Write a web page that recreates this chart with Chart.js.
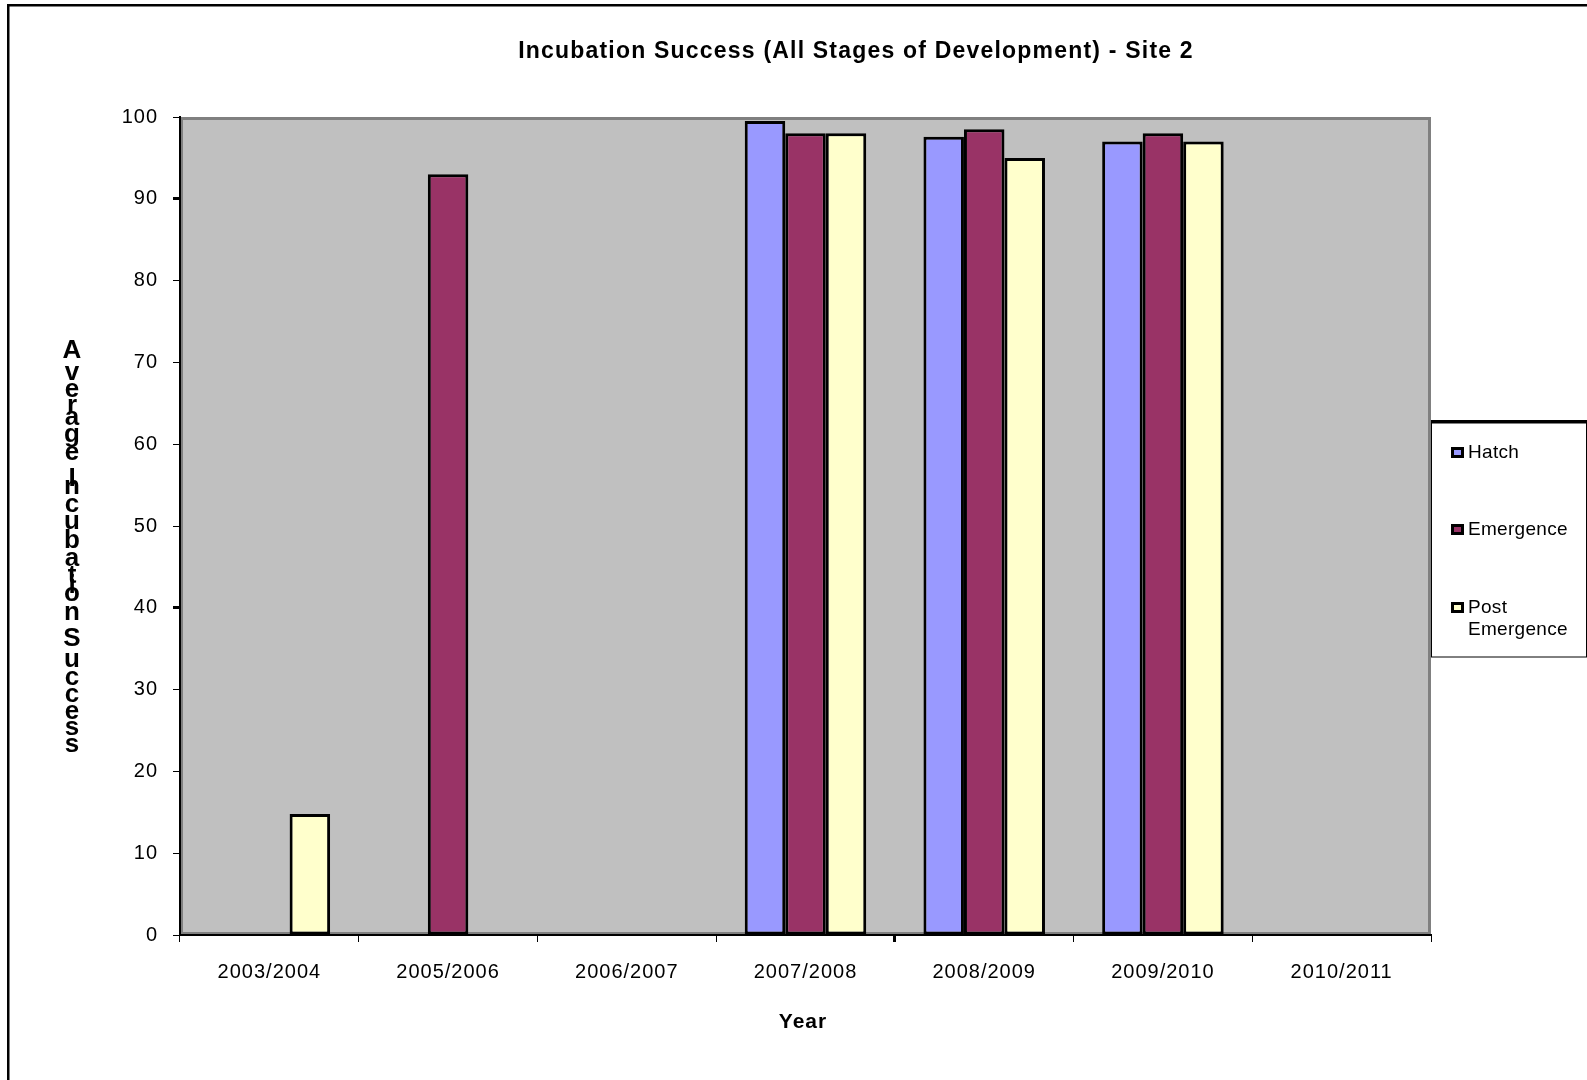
<!DOCTYPE html>
<html>
<head>
<meta charset="utf-8">
<title>Incubation Success - Site 2</title>
<script src="https://cdn.jsdelivr.net/npm/chart.js@4.4.1/dist/chart.umd.min.js"></script>
<style>
  html, body { margin: 0; padding: 0; background: #fff; }
  #wrap { width: 1587px; height: 1080px; }
</style>
</head>
<body>
<div id="wrap"><canvas id="c" width="1587" height="1080"></canvas></div>
<script>
// Seasons on the category axis
const seasons = ['2003/2004', '2005/2006', '2006/2007', '2007/2008', '2008/2009', '2009/2010', '2010/2011'];

// Average incubation success (%) per stage of development
const hatch        = [null, null, null, 99.5, 97.6, 97.0, null];
const emergence    = [null, 93.0, null, 98.0, 98.5, 98.0, null];
const postEmergence = [14.8, null, null, 98.0, 95.0, 97.0, null];

const seriesNames = ['Hatch', 'Emergence', 'Post Emergence'];
const seriesColors = ['#9999FF', '#993366', '#FFFFCC'];

const yTicks = [0, 10, 20, 30, 40, 50, 60, 70, 80, 90, 100];

const chartTitle = 'Incubation Success (All Stages of Development) - Site 2';
const xTitle = 'Year';
const yTitle = 'Average Incubation Success';

const FONT = "'Liberation Sans', Arial, sans-serif";

// Background, outer frame and the grey plot area
const backdrop = {
  id: 'backdrop',
  beforeDraw(chart) {
    const { ctx, chartArea: a } = chart;
    ctx.save();
    ctx.fillStyle = '#ffffff';
    ctx.fillRect(0, 0, chart.width, chart.height);
    // frame
    ctx.fillStyle = '#000000';
    ctx.fillRect(7, 4, chart.width - 7, 2.5);
    ctx.fillRect(7, 4, 2.5, chart.height - 4);
    // plot area
    ctx.fillStyle = '#C0C0C0';
    ctx.fillRect(a.left, a.top, a.right - a.left, a.bottom - a.top);
    ctx.strokeStyle = '#808080';
    ctx.lineWidth = 3;
    ctx.strokeRect(a.left + 1.5, a.top + 1.5, a.right - a.left - 3, a.bottom - a.top - 3);
    ctx.restore();
    // slightly spaced tick lettering
    ctx.letterSpacing = '1px';
  }
};

// Title, axis titles and legend box
const annotations = {
  id: 'annotations',
  afterDraw(chart) {
    const { ctx } = chart;
    ctx.save();
    ctx.fillStyle = '#000';

    // chart title
    ctx.font = `bold 23px ${FONT}`;
    ctx.letterSpacing = '1.2px';
    ctx.textAlign = 'center';
    ctx.textBaseline = 'middle';
    ctx.fillText(chartTitle, 856, 52);

    // x axis title
    ctx.font = `bold 21px ${FONT}`;
    ctx.letterSpacing = '1px';
    ctx.fillText(xTitle, 803, 1022);
    ctx.letterSpacing = '0px';

    // y axis title: upright characters stacked downwards
    ctx.font = `bold 26px ${FONT}`;
    const chars = Array.from(yTitle);
    const widths = chars.map(ch => ctx.measureText(ch).width);
    const total = widths.reduce((s, w) => s + w, 0);
    const span = 411, top = 340;
    const k = span / total;
    let pos = top;
    ctx.textAlign = 'center';
    ctx.textBaseline = 'alphabetic';
    chars.forEach((ch, i) => {
      if (ch !== ' ') ctx.fillText(ch, 72, pos + 18);
      pos += widths[i] * k;
    });

    // legend box
    const L = 1431.5, T = 422, R = chart.width - 0.5, B = 657;
    ctx.fillStyle = '#fff';
    ctx.fillRect(L, T, R - L, B - T);
    ctx.strokeStyle = '#000';
    ctx.lineWidth = 1;
    ctx.strokeRect(L, T, R - L, B - T);
    ctx.fillStyle = '#000';
    ctx.fillRect(L - 0.5, T - 2, R - L + 1, 3.5);

    ctx.font = `19px ${FONT}`;
    ctx.letterSpacing = '0.3px';
    ctx.textAlign = 'left';
    ctx.textBaseline = 'middle';
    const itemY = [453, 530, 608];
    const textX = 1468, maxW = R - textX - 6;
    chart.data.datasets.forEach((ds, i) => {
      const y = itemY[i];
      // marker
      ctx.fillStyle = '#000';
      ctx.fillRect(1451, y - 6, 13, 11);
      ctx.fillStyle = ds.backgroundColor;
      ctx.fillRect(1454, y - 3, 7, 5);
      // wrapped label
      const words = ds.label.split(' ');
      const lines = [];
      let line = '';
      words.forEach(w => {
        const t = line ? line + ' ' + w : w;
        if (line && ctx.measureText(t).width > maxW) { lines.push(line); line = w; }
        else line = t;
      });
      if (line) lines.push(line);
      ctx.fillStyle = '#000';
      lines.forEach((ln, j) => ctx.fillText(ln, textX, y + j * 22));
    });
    ctx.restore();
  }
};

const datasets = [hatch, emergence, postEmergence].map((vals, i) => ({
  label: seriesNames[i],
  data: vals,
  backgroundColor: seriesColors[i],
  borderColor: '#000',
  borderWidth: 3,
  borderSkipped: false,
  categoryPercentage: 0.68,
  barPercentage: 1.0
}));

new Chart(document.getElementById('c'), {
  type: 'bar',
  data: { labels: seasons, datasets },
  options: {
    responsive: false,
    animation: false,
    devicePixelRatio: 1,
    layout: { padding: { top: 117, right: 156, left: 0, bottom: 0 } },
    plugins: {
      legend: { display: false },
      title: { display: false },
      tooltip: { enabled: false }
    },
    scales: {
      x: {
        grid: {
          offset: true,
          drawOnChartArea: false,
          drawTicks: true,
          tickLength: 7,
          color: '#000',
          tickWidth: c => (c.index === 4 ? 3 : 1)
        },
        border: { color: '#000', width: 2 },
        ticks: { color: '#000', font: { family: FONT, size: 20 }, padding: 18, maxRotation: 0 },
        afterFit: s => { s.height = 145; }
      },
      y: {
        min: 0,
        max: 100,
        afterBuildTicks: s => { s.ticks = yTicks.map(v => ({ value: v })); },
        grid: {
          drawOnChartArea: false,
          drawTicks: true,
          tickLength: 7,
          color: '#000',
          tickWidth: c => (c.tick && (c.tick.value === 90 || c.tick.value === 40) ? 3 : 1)
        },
        border: { color: '#000', width: 2 },
        ticks: { color: '#000', font: { family: FONT, size: 20 }, padding: 15 },
        afterFit: s => { s.width = 180; }
      }
    }
  },
  plugins: [backdrop, annotations]
});
</script>
</body>
</html>
